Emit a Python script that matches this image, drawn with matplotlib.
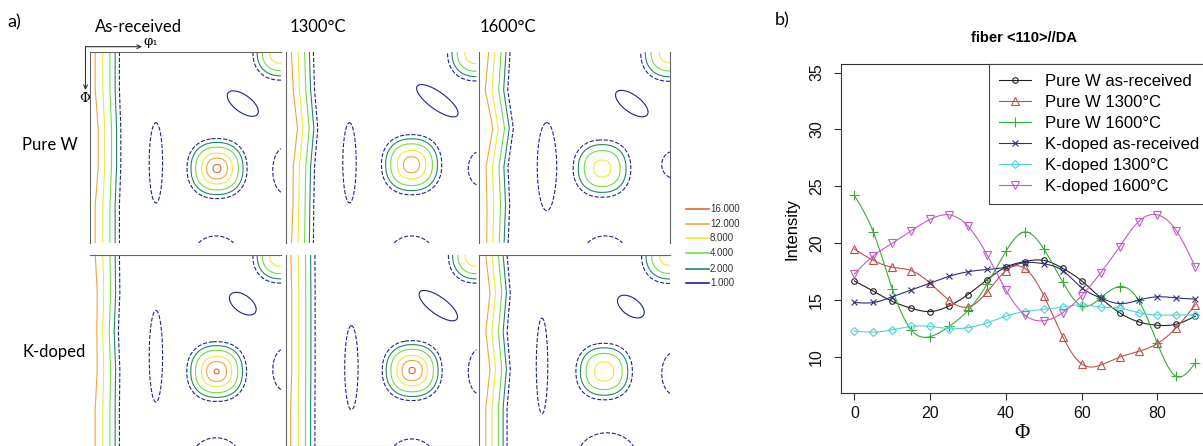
import numpy as np
import matplotlib
matplotlib.use("Agg")
import matplotlib.pyplot as plt

W, H = 1203, 446

# ---------------- b) fiber <110>//DA intensity profiles ----------------
phi = [0, 5, 10, 15, 20, 25, 30, 35, 40, 45, 50, 55, 60, 65, 70, 75, 80, 85, 90]
pure_w_ar = [16.7, 15.8, 14.9, 14.3, 14.0, 14.5, 15.5, 16.8, 17.9, 18.4, 18.5, 17.8, 16.7, 15.2, 13.9, 13.1, 12.8, 12.9, 13.6]
pure_w_1300 = [19.5, 18.5, 17.9, 17.6, 16.5, 15.0, 14.4, 15.7, 17.6, 17.8, 15.4, 11.8, 9.4, 9.3, 10.0, 10.5, 11.2, 12.6, 14.6]
pure_w_1600 = [24.2, 21.0, 16.0, 12.4, 11.8, 12.7, 14.1, 16.4, 19.3, 21.0, 19.5, 16.6, 14.5, 15.2, 16.2, 15.0, 11.2, 8.3, 9.5]
kd_ar = [14.8, 14.8, 15.3, 15.9, 16.5, 17.1, 17.5, 17.7, 17.9, 18.3, 18.2, 17.6, 16.1, 15.2, 14.7, 15.0, 15.3, 15.2, 15.1]
kd_1300 = [12.3, 12.2, 12.4, 12.7, 12.7, 12.5, 12.6, 13.0, 13.6, 14.0, 14.2, 14.4, 14.6, 14.4, 14.3, 13.9, 13.7, 13.7, 13.7]
kd_1600 = [17.3, 18.9, 20.0, 21.1, 22.1, 22.5, 21.5, 19.0, 15.9, 13.7, 13.2, 13.9, 15.4, 17.4, 19.7, 21.9, 22.5, 21.1, 17.9]

series_labels = ["Pure W as-received", "Pure W 1300°C", "Pure W 1600°C",
                 "K-doped as-received", "K-doped 1300°C", "K-doped 1600°C"]
series_colors = ["#222222", "#c0504d", "#3aaa3a", "#2d3079", "#4fd5d5", "#c45ac8"]
series_markers = ["o", "^", "+", "x", "D", "v"]
series_msize = [4, 6, 7, 5, 4.5, 6]

# ---------------- a) ODF sections (contour maps) ----------------
row_labels = ["Pure W", "K-doped"]
col_labels = ["As-received", "1300°C", "1600°C"]
levels = [1, 2, 4, 8, 12, 16]
level_colors = ["#1c2490", "#1f8a5c", "#74dd44", "#eeea3a", "#f2a43a", "#dc6a2a"]

# order: pureW AR, pureW 1300, pureW 1600, K AR, K 1300, K 1600
peak_x = [0.665, 0.66, 0.645, 0.663, 0.663, 0.655]
peak_y = [0.61, 0.59, 0.61, 0.61, 0.605, 0.61]
peak_amp = [16.8, 14.5, 9.8, 16.3, 16.5, 10.5]
peak_sig = [0.066, 0.068, 0.070, 0.066, 0.066, 0.068]
corner_amp = [12, 12, 11, 12, 12, 11]
band_y = [0.0, 0.2, 0.4, 0.6, 0.8, 1.0]
band_amp = [[13, 13, 14, 14, 13, 13],
            [13.5, 14, 15, 14, 14.5, 13.5],
            [14.5, 13.5, 15.5, 14, 13.5, 14.5],
            [13, 14, 15, 14, 13, 13],
            [13, 13.5, 13.5, 13.5, 13, 13],
            [14, 15, 14, 15, 14, 14]]
band_shift = [[0, 0, 0.005, 0.005, 0, 0],
              [0.0, 0.005, 0.02, 0.005, 0.0, 0.0],
              [0.01, 0.0, 0.025, 0.0, 0.01, 0.0],
              [0, 0, -0.01, 0, 0, 0],
              [0, 0, 0, 0, 0, 0],
              [0.0, 0.015, 0.0, 0.015, 0.0, 0.0]]
band_sig = [0.068, 0.064, 0.066, 0.068, 0.068, 0.064]
# vertical low ellipse: x, y, half width, half height
ell = [(0.345, 0.58, 0.035, 0.21), (0.335, 0.58, 0.035, 0.21), (0.355, 0.60, 0.05, 0.23),
       (0.345, 0.53, 0.035, 0.24), (0.345, 0.59, 0.035, 0.22), (0.33, 0.58, 0.03, 0.25)]
# partial ellipse on right edge: y, half height
edge_ell = [(0.62, 0.12), (0.61, 0.09), (0.59, 0.07), (0.60, 0.11), (0.61, 0.12), (0.62, 0.11)]
# bottom blob: x, amplitude
bottom_blob = [(0.66, 1.6), (0.66, 1.6), (0.66, 1.6), (0.66, 1.7), (0.66, 1.6), (0.67, 2.3)]
# solid diagonal blob: x, y, half length, half width
diag_blob = [(0.80, 0.27, 0.095, 0.045), (0.795, 0.255, 0.13, 0.045), (0.80, 0.27, 0.10, 0.045),
             (0.80, 0.255, 0.08, 0.045), (0.80, 0.265, 0.12, 0.045), (0.795, 0.27, 0.08, 0.045)]

col_px = [90, 285.5, 479]
row_px = [52, 255]
panel_px = 191
panel_spines = [("top", "left"), ("left",), ("left", "right"),
                ("top",), ("left", "bottom"), ("top", "left")]


def bump(X, Y, x0, y0, sx, sy, amp, p=2.0):
    r = (np.abs((X - x0) / sx) ** p + np.abs((Y - y0) / sy) ** p) ** (2.0 / p)
    return amp * np.exp(-0.5 * r)


def panel_fields(i):
    g = np.linspace(0, 1, 300)
    X, Y = np.meshgrid(g, g)
    a = np.interp(Y, band_y, band_amp[i])
    c = np.interp(Y, band_y, band_shift[i])
    Z = a * np.exp(-0.5 * ((X - c) / band_sig[i]) ** 2)
    s = peak_sig[i]
    Z += bump(X, Y, peak_x[i], peak_y[i], s, s, peak_amp[i], 2.3)
    Z += bump(X, Y, 1.0, 0.0, s, s, corner_amp[i], 2.3)
    ex, ey, ew, eh = ell[i]
    Z += bump(X, Y, ex, ey, ew / 0.9, eh / 0.9, 1.5)
    yy, hh = edge_ell[i]
    Z += bump(X, Y, 1.02, yy, 0.07, hh / 0.9, 1.5)
    bx, ba = bottom_blob[i]
    Z += bump(X, Y, bx, 1.06, 0.12, 0.10, ba)
    dx, dy, dl, dw = diag_blob[i]
    ang = np.deg2rad(36)
    u = (X - dx) * np.cos(ang) + (Y - dy) * np.sin(ang)
    v = -(X - dx) * np.sin(ang) + (Y - dy) * np.cos(ang)
    B = 1.4 * np.exp(-0.5 * ((u / (dl / 0.82)) ** 2 + (v / (dw / 0.82)) ** 2))
    return X, Y, Z, B


def spline(x, y, n=300):
    # natural cubic spline, as the R plot draws smooth curves through the points
    x = np.asarray(x, float)
    y = np.asarray(y, float)
    k = len(x)
    h = np.diff(x)
    A = np.zeros((k, k))
    r = np.zeros(k)
    A[0, 0] = A[-1, -1] = 1
    for j in range(1, k - 1):
        A[j, j - 1] = h[j - 1]
        A[j, j] = 2 * (h[j - 1] + h[j])
        A[j, j + 1] = h[j]
        r[j] = 6 * ((y[j + 1] - y[j]) / h[j] - (y[j] - y[j - 1]) / h[j - 1])
    M = np.linalg.solve(A, r)
    xs = np.linspace(x[0], x[-1], n)
    idx = np.clip(np.searchsorted(x, xs) - 1, 0, k - 2)
    x0, x1, hh = x[idx], x[idx + 1], h[idx]
    ys = (M[idx] * (x1 - xs) ** 3 + M[idx + 1] * (xs - x0) ** 3) / (6 * hh) \
        + (y[idx] / hh - M[idx] * hh / 6) * (x1 - xs) \
        + (y[idx + 1] / hh - M[idx + 1] * hh / 6) * (xs - x0)
    return xs, ys


fig = plt.figure(figsize=(W / 100, H / 100), dpi=100)

# contour panels
for i in range(6):
    r, c = divmod(i, 3)
    x0, y0 = col_px[c], row_px[r]
    ax = fig.add_axes([x0 / W, 1 - (y0 + panel_px) / H, panel_px / W, panel_px / H])
    X, Y, Z, B = panel_fields(i)
    styles = ["--"] + ["-"] * (len(levels) - 1)
    cs = ax.contour(X, Y, Z, levels=levels, colors=level_colors, linewidths=0.8, linestyles=styles)
    ax.contour(X, Y, B, levels=[1], colors=level_colors[0], linewidths=0.8)
    ax.set_xlim(0, 1)
    ax.set_ylim(1, 0)
    ax.set_xticks([])
    ax.set_yticks([])
    for name, sp in ax.spines.items():
        sp.set_visible(name in panel_spines[i])
        sp.set_color("#666666")
        sp.set_linewidth(0.8)

# line chart (axes runs past the right edge, as in the cropped original)
axb = fig.add_axes([840.7 / W, 1 - 393 / H, (1209 - 840.7) / W, (393 - 64) / H])
handles = []
for ys, lab, col, mk, ms in zip([pure_w_ar, pure_w_1300, pure_w_1600, kd_ar, kd_1300, kd_1600],
                                series_labels, series_colors, series_markers, series_msize):
    xs, yy = spline(phi, ys)
    axb.plot(xs, yy, color=col, lw=0.8)
    axb.plot(phi, ys, ls="none", marker=mk, ms=ms, mfc="none", mec=col, mew=0.8)
    handles.append(plt.Line2D([], [], color=col, lw=0.8, marker=mk, ms=ms, mfc="none", mec=col, mew=0.8))
axb.set_xlim(-3.6, 93.6)
axb.set_ylim(6.85, 35.75)
axb.set_xticks([0, 20, 40, 60, 80])
axb.set_yticks([10, 15, 20, 25, 30, 35])
axb.tick_params(labelsize=11.5, length=5, width=0.8, color="#333333", labelcolor="#111111")
axb.tick_params(axis="y", pad=7)
axb.tick_params(axis="x", pad=4)
for t in axb.get_yticklabels():
    t.set_rotation(90)
    t.set_va("center")
    t.set_family("Liberation Sans")
for t in axb.get_xticklabels():
    t.set_family("Liberation Sans")
for sp in axb.spines.values():
    sp.set_color("#333333")
    sp.set_linewidth(0.8)
axb.set_ylabel("Intensity", fontsize=12, family="Liberation Sans")
axb.yaxis.set_label_coords(-0.113, 0.5)
axb.set_xlabel("Φ", fontsize=15, family="Liberation Serif")
axb.xaxis.set_label_coords(0.492, -0.095)
leg = axb.legend(handles, series_labels, loc="upper right", bbox_to_anchor=(1, 1), borderaxespad=0,
                 fancybox=False, edgecolor="#444444", framealpha=1, handlelength=1.9,
                 handletextpad=0.85, borderpad=0.6, labelspacing=0.36,
                 prop={"family": "Liberation Sans", "size": 12})
leg.get_frame().set_linewidth(0.8)

# overlay in pixel coordinates for labels, arrows and the contour key
over = fig.add_axes([0, 0, 1, 1])
over.set_xlim(0, W)
over.set_ylim(H, 0)
over.axis("off")
cal = "Lato"
over.text(7, 22, "a)", fontsize=13, family=cal, va="center", ha="left")
over.text(775, 20, "b)", fontsize=13, family=cal, va="center", ha="left")
for xt, lab in zip([95, 290, 480], col_labels):
    over.text(xt, 27, lab, fontsize=12, family=cal, va="center", ha="left")
for yt, lab in zip([145, 352], row_labels):
    over.text(22, yt, lab, fontsize=12, family=cal, va="center", ha="left")
over.text(1024, 38, "fiber <110>//DA", fontsize=10.5, family="Liberation Sans", weight="bold",
          ha="center", va="center")
over.annotate("", xy=(142, 46.7), xytext=(85.5, 46.7),
              arrowprops=dict(arrowstyle="->", lw=0.8, color="#333333", mutation_scale=7, shrinkA=0, shrinkB=0))
over.annotate("", xy=(85.5, 90), xytext=(85.5, 46.7),
              arrowprops=dict(arrowstyle="->", lw=0.8, color="#333333", mutation_scale=7, shrinkA=0, shrinkB=0))
over.text(143, 42, "φ₁", fontsize=9.5, family="DejaVu Serif", va="center", ha="left")
over.text(85, 99, "Φ", fontsize=9.5, family="DejaVu Serif", va="center", ha="center")
key_y = [209.3, 223.6, 238, 253.3, 268.5, 283.3]
for ky, lv, col in zip(key_y, levels[::-1], level_colors[::-1]):
    over.plot([685.5, 708.5], [ky, ky], color=col, lw=1.2)
    over.text(710, ky, f"{lv:.3f}", fontsize=7, family="Liberation Sans", va="center", ha="left", color="#333333")

fig.savefig("out.png", dpi=100)
